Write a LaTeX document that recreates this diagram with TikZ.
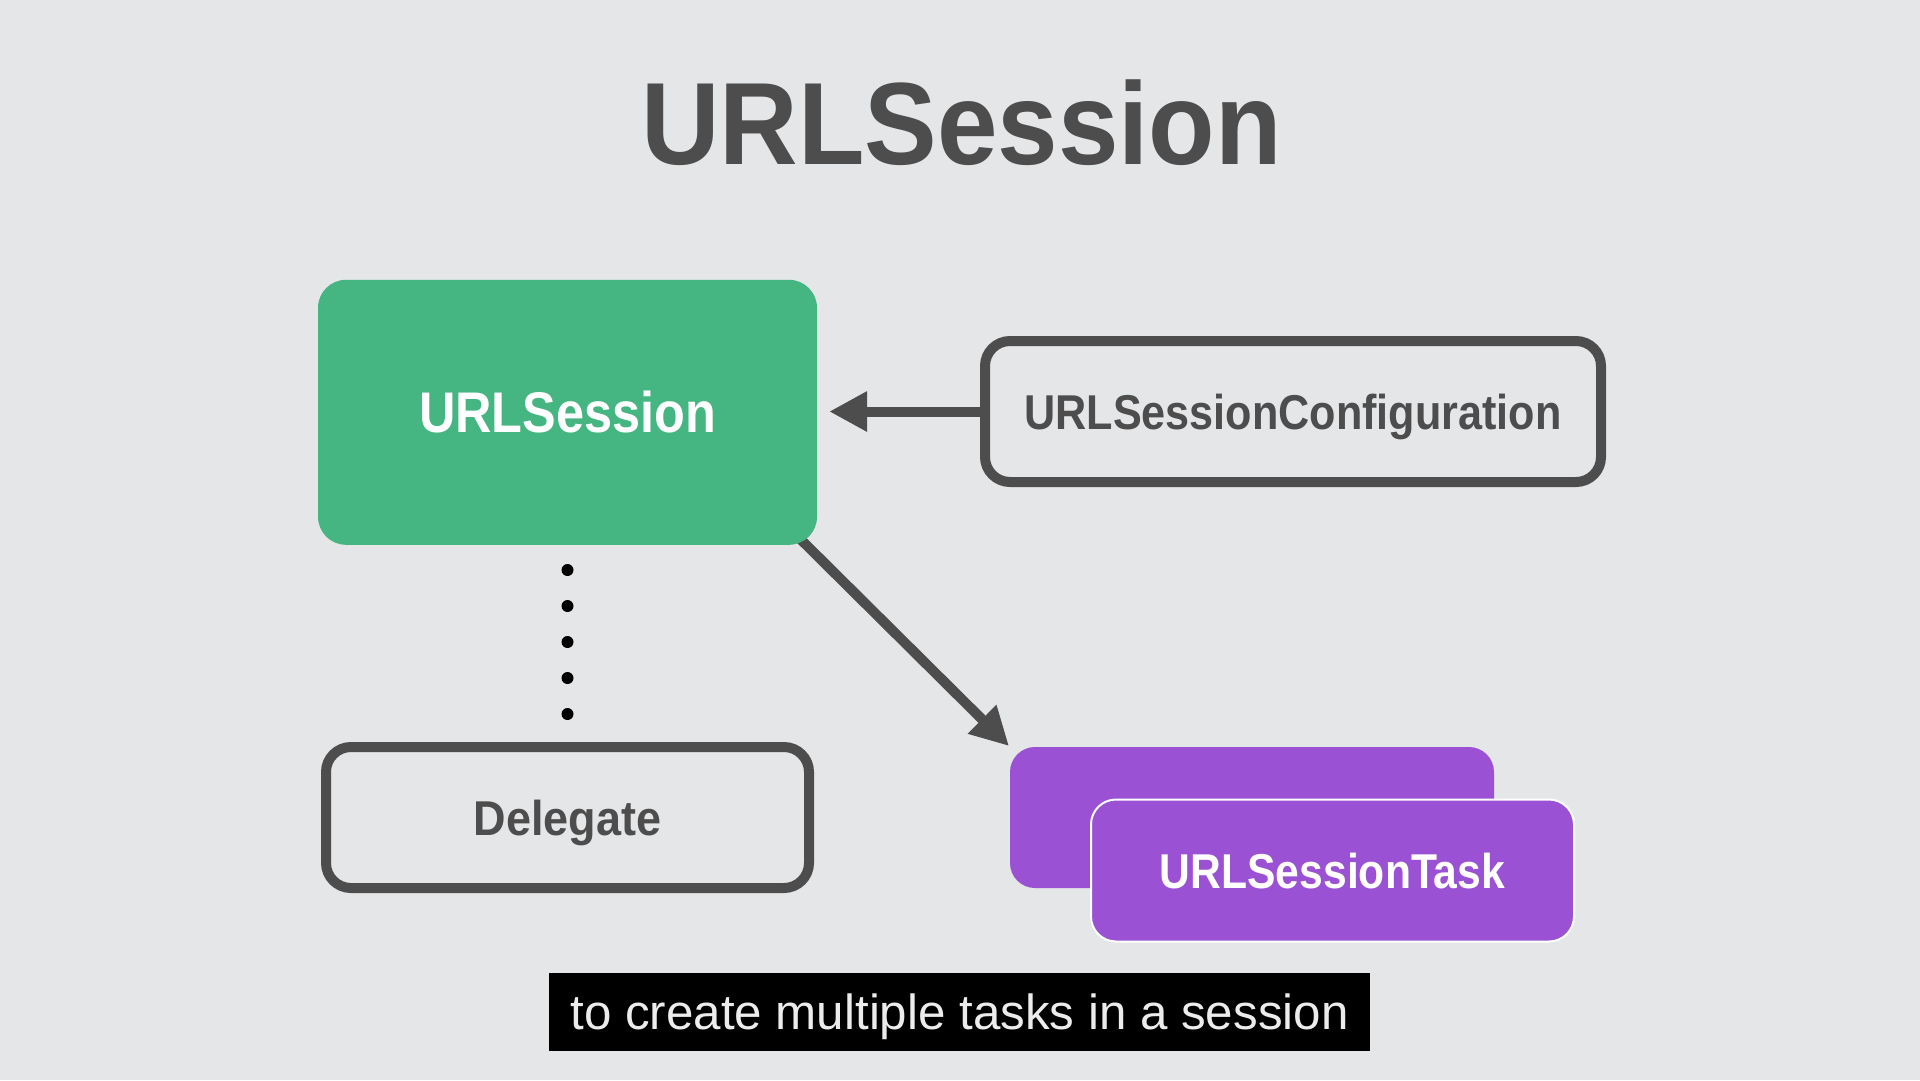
\documentclass[tikz,border=0pt]{standalone}
\usepackage{fontspec}
\usepackage{graphicx}
\setmainfont{Liberation Sans}
\usetikzlibrary{arrows.meta,calc}
\definecolor{bgc}{RGB}{229,230,232}
\definecolor{dg}{RGB}{77,77,77}
\definecolor{grn}{RGB}{69,182,130}
\definecolor{prp}{RGB}{155,81,211}
\definecolor{captxt}{RGB}{236,236,236}
\pgfdeclarelayer{bg}
\pgfsetlayers{bg,main}
\newcommand{\hsx}[2]{\scalebox{#1}[1]{#2}}
\begin{document}
\begin{tikzpicture}[x=1pt,y=-1pt,
  outlinebox/.style={draw=dg, line width=10pt, rounded corners=25pt, inner sep=0pt,
    text=dg, font=\fontsize{48.9}{50}\selectfont\bfseries, text height=35pt, text depth=0pt},
  taskbox/.style={fill=prp, draw=white, line width=2pt, rounded corners=25pt, inner sep=0pt,
    minimum width=483pt, minimum height=142pt},
  arr/.style={draw=dg, line width=10pt, -{Triangle[length=38pt,width=38pt]}}
]
\useasboundingbox (0,0) rectangle (1920,1080);

\node (title) [anchor=base, text=dg, inner sep=0pt, font=\fontsize{117}{120}\selectfont\bfseries]
  at (961.5,164) {\hsx{0.93}{URLSession}};

\node (sess) [fill=grn, rounded corners=28pt, minimum width=499pt, minimum height=265pt, inner sep=0pt,
  text=white, font=\fontsize{57.3}{60}\selectfont\bfseries, text height=41pt, text depth=0pt]
  at (567.5,412.3) {\hsx{0.88}{URLSession}};

\node (conf) [outlinebox, minimum width=616pt, minimum height=141pt] at (1293,411.5)
  {\hsx{0.883}{URLSessionConfiguration}};

\node (deleg) [outlinebox, minimum width=483pt, minimum height=141pt] at (567.5,817.5)
  {\hsx{0.92}{Delegate}};

\node (taskback) [taskbox, draw=none, minimum width=484pt, minimum height=141pt] at (1252,817.5) {};
\node (task) [taskbox, text=white, font=\fontsize{48.9}{50}\selectfont\bfseries, text height=35pt, text depth=0pt]
  at (1332.5,870.5) {\hsx{0.872}{URLSessionTask}};

\node (cap) [fill=black, minimum width=821pt, minimum height=78pt, inner sep=0pt, text=captxt,
  font=\fontsize{49.3}{50}\selectfont, text height=35pt, text depth=0pt]
  at (959.5,1012) {to create multiple tasks in a session};

\draw[arr] (conf.west) -- ($(sess.east |- conf.west)+(12,0)$);

\draw[black, line width=12pt, line cap=round, dash pattern=on 0pt off 36pt]
  ($(sess.south)+(0,25)$) -- ($(deleg.north)+(0,-27)$);

\coordinate (dstart) at ($(sess.south east)+(-27,-16)$);
\begin{pgfonlayer}{bg}
\fill[bgc] (0,0) rectangle (1920,1080);
\draw[arr] (dstart) -- (taskback.north west);
\end{pgfonlayer}
\end{tikzpicture}
\end{document}
